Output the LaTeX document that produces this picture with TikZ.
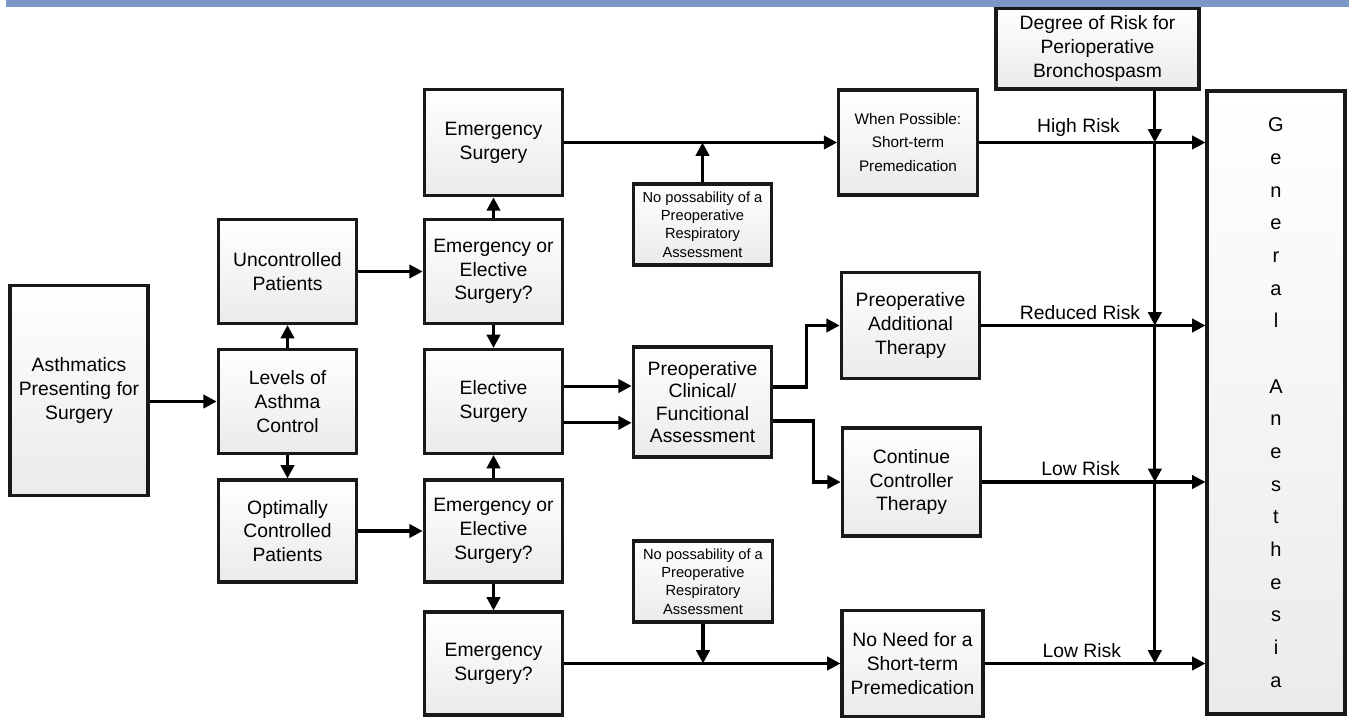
\documentclass[tikz,border=0pt]{standalone}
\usepackage{fontspec}
\setmainfont{Liberation Sans}
\usepackage{tikz}
\usetikzlibrary{shapes,arrows.meta,positioning,calc}
\usepackage{xcolor}

\definecolor{barblue}{HTML}{7B98C8}

\begin{document}
\begin{tikzpicture}[
    x=0.75pt, y=-0.75pt,
    box/.style={rectangle, draw=black!90, line width=2.3pt, top color=white, bottom color=black!8, minimum width=104pt, minimum height=78pt, align=center, text=black, font=\fontsize{14.5}{17.8}\selectfont, inner sep=2pt},
    notebox/.style={box, minimum height=60.75pt, font=\fontsize{11}{13.7}\selectfont},
    arrow/.style={-{Triangle[length=10pt,width=10pt]}, line width=2.3pt, color=black},
    risk/.style={font=\fontsize{14.5}{17.8}\selectfont, text=black, above, pos=0.44}
]
\useasboundingbox (0,0) rectangle (1349,721);

% Left column
\node[box, minimum width=103.5pt, minimum height=158pt] (asth) at (79,390.5) {Asthmatics\\Presenting for\\Surgery};
\node[box] (levels) at (287.5,401.5) {Levels of\\Asthma\\Control};
\node[box] (unctrl) at (287.5,271.5) {Uncontrolled\\Patients};
\node[box, minimum height=76.5pt] (optim) at (287.5,531) {Optimally\\Controlled\\Patients};

% Type of surgery
\node[box, minimum height=80pt] (emerg) at (493.5,142.5) {Emergency\\Surgery};
\node[box] (choiceA) at (493.5,271.5) {Emergency or\\Elective\\Surgery?};
\node[box] (elect) at (493.5,401.5) {Elective\\Surgery};
\node[box, minimum height=76.5pt] (choiceB) at (493.5,531) {Emergency or\\Elective\\Surgery?};
\node[box, minimum height=77.25pt] (emergq) at (493.5,663.5) {Emergency\\Surgery?};

% Assessment
\node[notebox] (noassessA) at (702.5,224.5) {No possability of a\\Preoperative\\Respiratory\\Assessment};
\node[box, minimum height=82.5pt, font=\fontsize{14.5}{16.8}\selectfont] (clinical) at (702.5,402) {Preoperative\\Clinical/\\Funcitional\\Assessment};
\node[notebox] (noassessB) at (703,581.5) {No possability of a\\Preoperative\\Respiratory\\Assessment};

% Therapy
\node[box, minimum height=78.75pt, font=\fontsize{11.5}{17.5}\selectfont] (premed) at (908,142.5) {When Possible:\\Short-term\\Premedication};
\node[box, minimum height=80pt] (addther) at (910.5,325.5) {Preoperative\\Additional\\Therapy};
\node[box, minimum height=81pt] (contther) at (911.5,482) {Continue\\Controller\\Therapy};
\node[box, minimum width=105.75pt, minimum height=79.5pt] (noneed) at (912.5,663.5) {No Need for a\\Short-term\\Premedication};

% Risk and anesthesia
\node[box, minimum width=152.25pt, minimum height=60.75pt] (degree) at (1097.5,48.5) {Degree of Risk for\\Perioperative\\Bronchospasm};
\node[box, minimum width=103.5pt, minimum height=467.25pt, font=\fontsize{15}{24.5}\selectfont] (anest) at (1276,402.5) {G\\e\\n\\e\\r\\a\\l\\\mbox{}\\A\\n\\e\\s\\t\\h\\e\\s\\i\\a};
\coordinate (bus) at ([xshift=43pt]degree.south);

% Arrows
\draw[arrow] (asth.east |- levels.west) -- (levels.west);
\draw[arrow] (levels.north) -- (unctrl.south);
\draw[arrow] (levels.south) -- (optim.north);
\draw[arrow] (unctrl.east) -- (choiceA.west);
\draw[arrow] (optim.east) -- (choiceB.west);
\draw[arrow] (choiceA.north) -- (emerg.south);
\draw[arrow] (choiceA.south) -- (elect.north);
\draw[arrow] (choiceB.north) -- (elect.south);
\draw[arrow] (choiceB.south) -- (emergq.north);

\draw[arrow] (emerg.east) -- (premed.west);
\draw[arrow] (noassessA.north) -- (noassessA.north |- emerg.east);
\draw[arrow] ([yshift=11.6pt]elect.east) -- ([yshift=11.6pt]elect.east -| clinical.west);
\draw[arrow] ([yshift=-16pt]elect.east) -- ([yshift=-16pt]elect.east -| clinical.west);
\draw[arrow] ([yshift=11.25pt]clinical.east) -- ++(33,0) |- (addther.west);
\draw[arrow] ([yshift=-14.25pt]clinical.east) -- ++(40,0) |- (contther.west);
\draw[arrow] (emergq.east) -- (noneed.west);
\draw[arrow] (noassessB.south) -- (noassessB.south |- emergq.east);

\draw[arrow] (premed.east) -- (premed.east -| anest.west) node[risk] {High Risk};
\draw[arrow] (addther.east) -- (addther.east -| anest.west) node[risk] {Reduced Risk};
\draw[arrow] (contther.east) -- (contther.east -| anest.west) node[risk] {Low Risk};
\draw[arrow] (noneed.east) -- (noneed.east -| anest.west) node[risk] {Low Risk};

\draw[arrow] (bus) -- (bus |- premed.east);
\draw[arrow] (bus |- premed.east) -- (bus |- addther.east);
\draw[arrow] (bus |- addther.east) -- (bus |- contther.east);
\draw[arrow] (bus |- contther.east) -- (bus |- noneed.east);

% Top bar
\fill[barblue] (6,0) rectangle (1349,7);

\end{tikzpicture}
\end{document}
